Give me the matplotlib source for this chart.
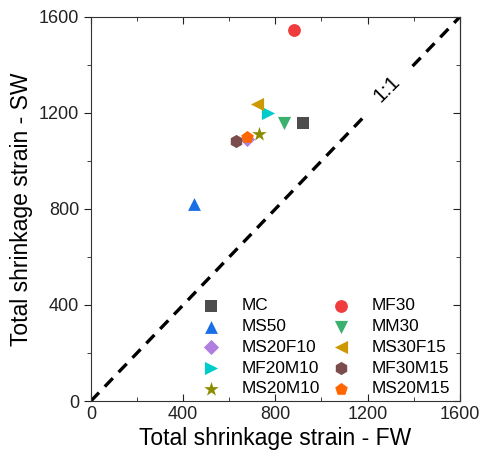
import matplotlib
matplotlib.use("Agg")
import matplotlib.pyplot as plt
from matplotlib.ticker import MultipleLocator

plt.rcParams['font.family'] = ['Liberation Sans', 'DejaVu Sans']

# legend fills column by column
names = ["MC", "MS50", "MS20F10", "MF20M10", "MS20M10",
         "MF30", "MM30", "MS30F15", "MF30M15", "MS20M15"]
fw = [919, 447, 676, 767, 728, 880, 837, 720, 629, 676]
sw = [1158, 821, 1092, 1200, 1112, 1546, 1158, 1237, 1083, 1100]
markers = ["s", "^", "D", ">", "*", "o", "v", "<", "h", "p"]
colors = ["#4d4d4d", "#1a6ee6", "#b07ee0", "#00cccc", "#8c8c00",
          "#f03c3c", "#3cb06e", "#cc9900", "#7a4c4c", "#ff6600"]
sizes = [70, 85, 60, 90, 120, 85, 90, 90, 90, 90]

fig = plt.figure(figsize=(4.81, 4.57), dpi=100)
ax = fig.add_axes([0.189, 0.1225, 0.767, 0.8405])

# 1:1 line, broken where the label sits
ax.plot([0, 1195], [0, 1195], "k--", lw=2.4, dashes=(3.5, 2.5), zorder=1)
ax.plot([1395, 1600], [1395, 1600], "k--", lw=2.4, dashes=(3.5, 2.5), zorder=1)
ax.text(1285, 1300, "1:1", rotation=45, ha="center", va="center", fontsize=15, zorder=2)

for i in range(len(names)):
    ax.scatter(fw[i], sw[i], marker=markers[i], s=sizes[i], color=colors[i],
               label=names[i], zorder=3, linewidths=0)

ax.set_xlim(0, 1600)
ax.set_ylim(0, 1600)
ax.xaxis.set_major_locator(MultipleLocator(400))
ax.yaxis.set_major_locator(MultipleLocator(400))
ax.xaxis.set_minor_locator(MultipleLocator(200))
ax.yaxis.set_minor_locator(MultipleLocator(200))
ax.tick_params(axis="x", which="both", direction="in", top=True, labelsize=13, colors="#222222")
ax.tick_params(axis="y", which="both", direction="out", right=False, labelsize=13, colors="#222222")
ax.tick_params(which="major", length=5)
ax.tick_params(which="minor", length=3)

right = ax.secondary_yaxis("right")
right.yaxis.set_major_locator(MultipleLocator(400))
right.yaxis.set_minor_locator(MultipleLocator(200))
right.tick_params(which="both", direction="in", labelright=False, colors="#222222")
right.tick_params(which="major", length=5)
right.tick_params(which="minor", length=3)

for sp in list(ax.spines.values()) + list(right.spines.values()):
    sp.set_color("#333333")

ax.set_xlabel("Total shrinkage strain - FW", fontsize=16.5, labelpad=3)
ax.set_ylabel("Total shrinkage strain - SW", fontsize=16.5, labelpad=4)

ax.legend(loc="lower right", ncol=2, frameon=False, fontsize=12.4,
          handletextpad=0.75, columnspacing=0.25, labelspacing=0.33,
          bbox_to_anchor=(1.015, -0.028))

fig.savefig("out.png", dpi=100)
